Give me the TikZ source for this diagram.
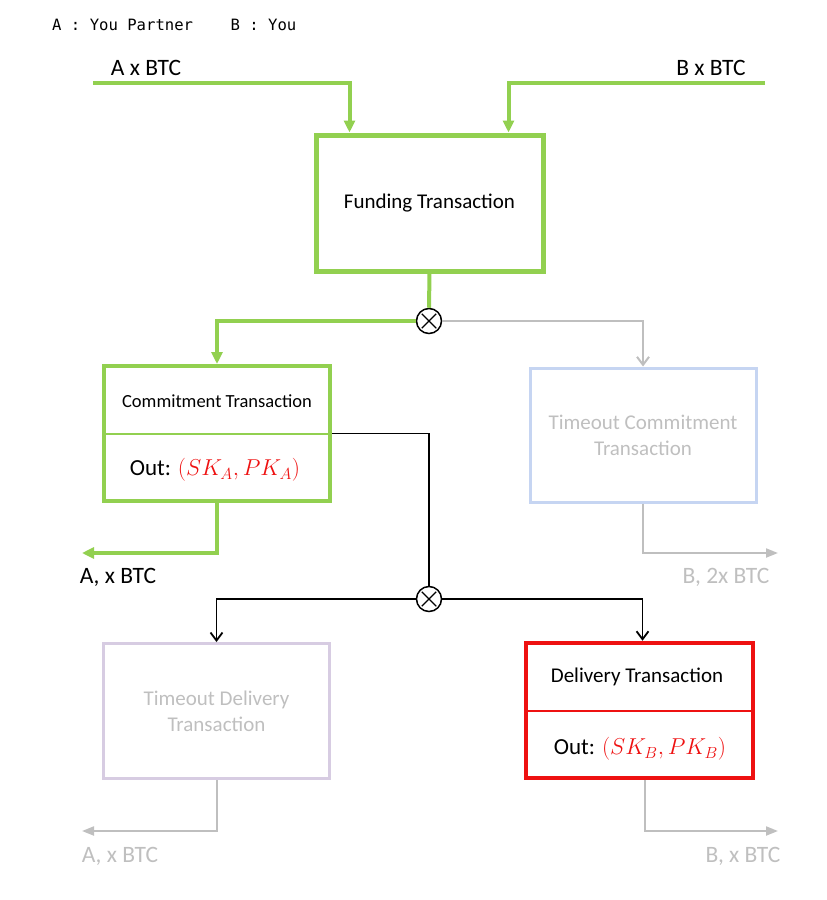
\documentclass[tikz,border=0pt]{standalone}
\usepackage{fix-cm}
\usepackage{fontspec}
\setmainfont{Carlito}
\newfontfamily\legendfont{DejaVu Sans Mono}
\usetikzlibrary{arrows.meta}
\definecolor{txgreen}{HTML}{92D050}
\definecolor{txgray}{HTML}{BFBFBF}
\definecolor{txblue}{HTML}{C6D5F2}
\definecolor{txpurple}{HTML}{D7CCE2}
\definecolor{txred}{HTML}{EE1111}
\begin{document}
\begin{tikzpicture}[x=1pt, y=-1pt,
    box/.style={minimum width=226, minimum height=135, inner sep=0, align=center,
        font=\fontsize{21}{26}\selectfont},
    label/.style={inner sep=0, font=\fontsize{23.5}{28}\selectfont},
    xnode/.style={circle, draw, line width=1.5pt, minimum size=25, inner sep=0, fill=white},
    greenline/.style={draw=txgreen, line width=3.5pt, -{Triangle[length=12pt, width=11pt]}},
    grayline/.style={draw=txgray, line width=2pt},
    blackline/.style={draw=black, line width=1.8pt}]
    \useasboundingbox (0,0) rectangle (827,900);

    % Draw nodes
    \node[anchor=west, inner sep=0, font=\legendfont\fontsize{15.6}{18}\selectfont] (legend) at (52,25) {A : You Partner\ \ \ \ B : You};
    \node[label] (ain) at (146,68) {A x BTC};
    \node[label] (bin) at (711,68) {B x BTC};

    \node[box, draw=txgreen, line width=5pt, minimum width=227, minimum height=136] (fund) at (429.5,203) {Funding Transaction};
    \node[xnode] (x1) at (429,321) {};

    \node[box, draw=txgreen, line width=4pt] (commit) at (217,433.5) {};
    \node[font=\fontsize{18.5}{22}\selectfont] (committext) at (217,401) {Commitment Transaction};
    \node[font=\fontsize{23}{28}\selectfont] (commitout) at (215,470) {Out: \textcolor{txred}{$(SK_A,PK_A)$}};

    \node[box, draw=txblue, line width=3pt, text=txgray, minimum height=134] (tcommit) at (643,435) {Timeout Commitment\\Transaction};
    \node[xnode] (x2) at (429,599) {};

    \node[box, draw=txpurple, line width=3pt, text=txgray] (tdeliv) at (216.5,711) {Timeout Delivery\\Transaction};
    \node[box, draw=txred, line width=4.5pt, minimum width=227] (deliv) at (639.5,710.5) {};
    \node[font=\fontsize{21}{26}\selectfont] (delivtext) at (637,677) {Delivery Transaction};
    \node[font=\fontsize{23}{28}\selectfont] (delivout) at (640,749) {Out: \textcolor{txred}{$(SK_B,PK_B)$}};

    \node[label] (aout) at (118,577) {A, x BTC};
    \node[label, text=txgray] (bout2) at (726,577) {B, 2x BTC};
    \node[label, text=txgray] (aout2) at (120,856) {A, x BTC};
    \node[label, text=txgray] (bout) at (743,856) {B, x BTC};

    \coordinate (astart) at (93,83);
    \coordinate (bstart) at (765,83);
    \coordinate (aend) at (82,553);
    \coordinate (b2end) at (778,553);
    \coordinate (a2end) at (82,831);
    \coordinate (bend) at (778,831);

    % Draw edges
    \draw[greenline, line width=4pt] (astart) -| ([xshift=36]fund.north west);
    \draw[greenline, line width=4pt] (bstart) -| ([xshift=-37]fund.north east);
    \draw[draw=txgreen, line width=4pt] (fund.south) -- (x1.north);
    \draw[greenline] (x1.west) -| (commit.north);
    \draw[grayline, -{Straight Barb[length=8pt, width=12pt]}] (x1.east) -| (tcommit.north);
    \draw[line width=1.3pt, shorten <=3pt, shorten >=3pt] (x1.45) -- (x1.225);
    \draw[line width=1.3pt, shorten <=3pt, shorten >=3pt] (x1.135) -- (x1.315);

    \draw[draw=txgreen, line width=2pt] (commit.west) -- (commit.east);
    \draw[blackline] (commit.east) -| (x2.north);
    \draw[greenline] (commit.south) |- (aend);
    \draw[grayline, -{Triangle[length=12pt, width=9pt]}] (tcommit.south) |- (b2end);

    \draw[blackline, -{Straight Barb[length=8pt, width=12pt]}] (x2.west) -| (tdeliv.north);
    \draw[blackline, -{Straight Barb[length=8pt, width=12pt]}] (x2.east) -| ([xshift=3]deliv.north);
    \draw[line width=1.3pt, shorten <=3pt, shorten >=3pt] (x2.45) -- (x2.225);
    \draw[line width=1.3pt, shorten <=3pt, shorten >=3pt] (x2.135) -- (x2.315);

    \draw[draw=txred, line width=2pt] (deliv.west) -- (deliv.east);
    \draw[grayline, -{Triangle[length=12pt, width=9pt]}] (tdeliv.south) |- (a2end);
    \draw[grayline, -{Triangle[length=12pt, width=9pt]}] ([xshift=5]deliv.south) |- (bend);
\end{tikzpicture}
\end{document}
